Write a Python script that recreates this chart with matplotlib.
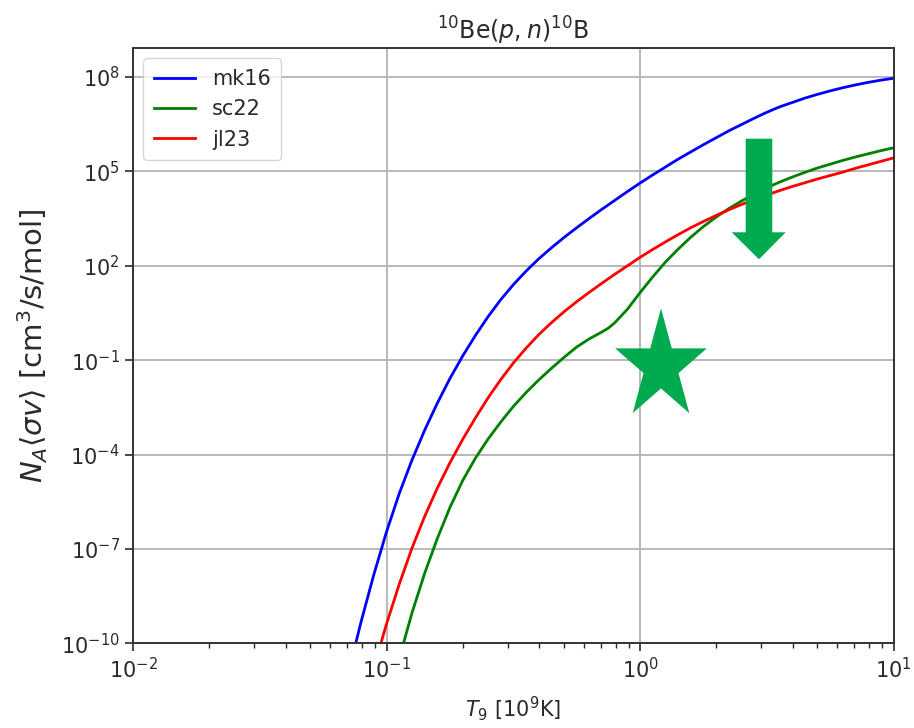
import matplotlib
matplotlib.use("Agg")
import matplotlib.pyplot as plt
from matplotlib.patches import Polygon
import numpy as np

#---- data (log10 T9, log10 rate)

mk16_logT = [-1.15, -1.10, -1.05, -1.00, -0.95, -0.90, -0.85, -0.80, -0.75, -0.70, -0.65, -0.60, -0.55,
             -0.50, -0.45, -0.40, -0.35, -0.30, -0.25, -0.20, -0.15, -0.10, -0.05, 0.00, 0.05, 0.10,
             0.15, 0.20, 0.25, 0.30, 0.35, 0.40, 0.45, 0.50, 0.55, 0.60, 0.65, 0.70, 0.75, 0.80,
             0.85, 0.90, 0.95, 1.00]
mk16_logR = [-10.92, -9.30, -7.81, -6.45, -5.24, -4.18, -3.23, -2.37, -1.58, -0.87, -0.22, 0.38, 0.92,
             1.40, 1.83, 2.22, 2.57, 2.90, 3.21, 3.51, 3.80, 4.08, 4.36, 4.63, 4.89, 5.14,
             5.39, 5.62, 5.85, 6.07, 6.29, 6.49, 6.69, 6.88, 7.05, 7.19, 7.33, 7.45, 7.56, 7.66,
             7.75, 7.83, 7.90, 7.96]

sc22_logT = [-0.97, -0.95, -0.90, -0.85, -0.80, -0.75, -0.70, -0.65, -0.60, -0.55, -0.50, -0.45, -0.40,
             -0.35, -0.30, -0.25, -0.20, -0.15, -0.125, -0.10, -0.05, 0.00, 0.05, 0.10, 0.15, 0.20,
             0.25, 0.30, 0.35, 0.40, 0.45, 0.50, 0.55, 0.60, 0.65, 0.70, 0.75, 0.80, 0.85, 0.90,
             0.95, 1.00]
sc22_logR = [-11.0, -10.48, -9.04, -7.78, -6.67, -5.68, -4.83, -4.12, -3.51, -2.97, -2.47, -2.03, -1.63,
             -1.26, -0.91, -0.58, -0.32, -0.10, 0.02, 0.19, 0.62, 1.15, 1.65, 2.12, 2.53, 2.91,
             3.25, 3.55, 3.82, 4.06, 4.28, 4.48, 4.66, 4.82, 4.97, 5.11, 5.23, 5.35, 5.46, 5.56,
             5.66, 5.75]

jl23_logT = [-1.05, -1.00, -0.95, -0.90, -0.85, -0.80, -0.75, -0.70, -0.65, -0.60, -0.55, -0.50, -0.45,
             -0.40, -0.35, -0.30, -0.25, -0.20, -0.15, -0.10, -0.05, 0.00, 0.05, 0.10, 0.15, 0.20,
             0.25, 0.30, 0.35, 0.40, 0.45, 0.50, 0.55, 0.60, 0.65, 0.70, 0.75, 0.80, 0.85, 0.90,
             0.95, 1.00]
jl23_logR = [-10.77, -9.38, -8.12, -6.98, -5.97, -5.07, -4.26, -3.52, -2.84, -2.20, -1.62, -1.09, -0.62,
             -0.19, 0.19, 0.54, 0.86, 1.16, 1.45, 1.73, 2.00, 2.27, 2.52, 2.76, 2.99, 3.21,
             3.41, 3.60, 3.78, 3.95, 4.10, 4.25, 4.39, 4.52, 4.64, 4.76, 4.87, 4.98, 5.10, 5.21,
             5.32, 5.43]

series_names = ["mk16", "sc22", "jl23"]
series_colors = ["blue", "green", "red"]

#----

fig = plt.figure(figsize=(9.14, 7.28), dpi=100)
ax = fig.add_axes([0.1455, 0.1163, 0.8323, 0.8177])

all_T = [mk16_logT, sc22_logT, jl23_logT]
all_R = [mk16_logR, sc22_logR, jl23_logR]
for lt, lr, name, col in zip(all_T, all_R, series_names, series_colors):
    ax.plot(10**np.array(lt), 10**np.array(lr), color=col, lw=2.0, label=name)

ax.set_xscale("log")
ax.set_yscale("log")
ax.set_xlim(1e-2, 1e1)
ax.set_ylim(1e-10, 10**8.92)
ax.set_yticks([1e-10, 1e-7, 1e-4, 1e-1, 1e2, 1e5, 1e8])
ax.yaxis.set_minor_locator(matplotlib.ticker.NullLocator())
ax.grid(True, which="major", color="#b8b8b8", lw=1.4)
ax.set_axisbelow(True)

txtc = "#2a2a2a"
ax.tick_params(which="major", labelsize=15, length=6, width=1.2, colors=txtc)
ax.tick_params(which="minor", length=3.5, width=1.0, colors=txtc)
for s in ax.spines.values():
    s.set_color("#333333")
    s.set_linewidth(1.4)

ax.set_title(r"$^{10}$Be$(p,n)^{10}$B", fontsize=17, color=txtc, pad=6)
ax.set_xlabel(r"$T_9$ [10$^9$K]", fontsize=15, color=txtc, labelpad=9)
ax.set_ylabel(r"$N_A\langle\sigma v\rangle$ [cm$^3$/s/mol]", fontsize=21, color=txtc, labelpad=8)

leg = ax.legend(loc="upper left", fontsize=15, handlelength=2.0, borderpad=0.5, labelspacing=0.5)
for t in leg.get_texts():
    t.set_color(txtc)

#---- annotations on top (pixel coordinates of the figure)
ov = fig.add_axes([0, 0, 1, 1], zorder=10)
ov.set_xlim(0, 914)
ov.set_ylim(728, 0)
ov.axis("off")
mark_green = "#00ab4f"

# down arrow
arrow = [(745.7, 138.7), (772.3, 138.7), (772.3, 232.3), (785.7, 232.3), (759, 259.3),
         (731.7, 232.3), (745.7, 232.3)]
ov.add_patch(Polygon(arrow, closed=True, color=mark_green, lw=0))

# star
cx, cy, rx, ry = 661, 366.3, 48.2, 58.0
ang = np.pi / 2 + np.arange(10) * np.pi / 5
rad = np.where(np.arange(10) % 2 == 0, 1.0, 0.382)
star = np.column_stack([cx + rx * rad * np.cos(ang), cy - ry * rad * np.sin(ang)])
ov.add_patch(Polygon(star, closed=True, color=mark_green, lw=0))

fig.savefig("out.png", dpi=100)
